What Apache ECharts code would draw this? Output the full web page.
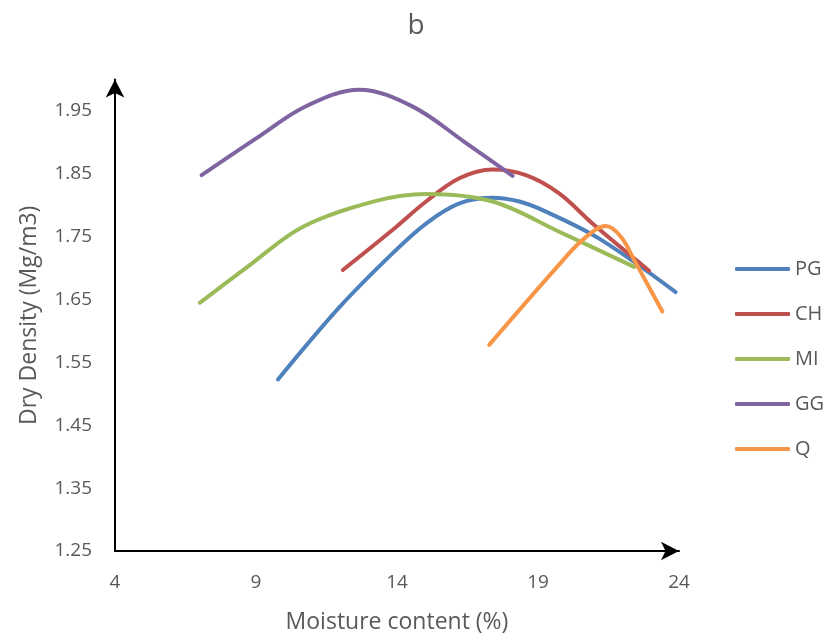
<!DOCTYPE html>
<html>
<head>
<meta charset="utf-8">
<script src="https://cdn.jsdelivr.net/npm/echarts@6/dist/echarts.min.js"></script>
<style>html,body{margin:0;padding:0;background:#fff}#c{width:834px;height:639px}</style>
</head>
<body>
<div id="c"></div>
<script>
const seriesNames = ['PG', 'CH', 'MI', 'GG', 'Q'];
const PG = [[9.78, 1.523], [11.96, 1.638], [13.85, 1.724], [15.03, 1.771], [16.21, 1.803], [17.39, 1.812], [18.34, 1.806], [19.28, 1.790], [21.17, 1.747], [23.88, 1.662]];
const CH = [[12.08, 1.697], [13.85, 1.761], [15.03, 1.806], [16.21, 1.843], [17.39, 1.857], [18.57, 1.848], [19.75, 1.819], [20.93, 1.771], [22.94, 1.696]];
const MI = [[7.01, 1.645], [8.78, 1.705], [10.67, 1.766], [13.26, 1.807], [15.03, 1.818], [17.39, 1.806], [19.75, 1.758], [22.41, 1.702]];
const GG = [[7.07, 1.848], [9.02, 1.907], [10.79, 1.958], [12.67, 1.984], [14.56, 1.957], [16.45, 1.899], [18.10, 1.847]];
const Q  = [[17.27, 1.578], [19.64, 1.700], [20.58, 1.745], [21.40, 1.767], [21.94, 1.750], [22.47, 1.708], [23.41, 1.631]];
const colors = ['#4F81BD', '#C0504D', '#9BBB59', '#8064A2', '#F79646'];
const allData = [PG, CH, MI, GG, Q];

const font = '"Open Sans", Lato, sans-serif';
const chart = echarts.init(document.getElementById('c'), null, {renderer: 'canvas'});
chart.setOption({
  animation: false,
  title: {
    text: 'b', left: 411, top: 7, textAlign: 'center',
    textStyle: {fontFamily: font, fontSize: 28, fontWeight: 'normal', color: '#595959'}
  },
  legend: {
    orient: 'vertical', left: 730, top: 254,
    icon: 'roundRect',
    itemWidth: 55, itemHeight: 4, itemGap: 25,
    data: seriesNames,
    textStyle: {fontFamily: font, fontSize: 20, lineHeight: 20, color: '#595959'}
  },
  grid: {left: 115, right: 155, top: 79.6, bottom: 88, containLabel: false},
  xAxis: {
    type: 'value', min: 4, max: 24, interval: 5,
    name: 'Moisture content (%)', nameLocation: 'middle', nameGap: 60,
    nameTextStyle: {fontFamily: font, fontSize: 23, color: '#595959'},
    axisLine: {show: true, symbol: ['none', 'arrow'], symbolSize: [14, 18], lineStyle: {color: '#000', width: 2}},
    axisTick: {show: false},
    splitLine: {show: false},
    axisLabel: {fontFamily: font, fontSize: 19, color: '#595959', margin: 22}
  },
  yAxis: {
    type: 'value', min: 1.25, max: 2.0, interval: 0.1,
    name: 'Dry Density (Mg/m3)', nameLocation: 'middle', nameGap: 74,
    nameTextStyle: {fontFamily: font, fontSize: 23, color: '#595959'},
    axisLine: {show: true, onZero: false, symbol: ['none', 'arrow'], symbolSize: [14, 18], lineStyle: {color: '#000', width: 2}},
    axisTick: {show: false},
    splitLine: {show: false},
    axisLabel: {fontFamily: font, fontSize: 19, color: '#595959', margin: 23, showMaxLabel: false,
      formatter: v => v.toFixed(2)}
  },
  series: seriesNames.map((n, i) => ({
    name: n, type: 'line', data: allData[i], smooth: 0.35,
    symbol: 'none', showSymbol: false,
    lineStyle: {width: 4, color: colors[i], cap: 'round'},
    itemStyle: {color: colors[i]}
  }))
});
</script>
</body>
</html>
